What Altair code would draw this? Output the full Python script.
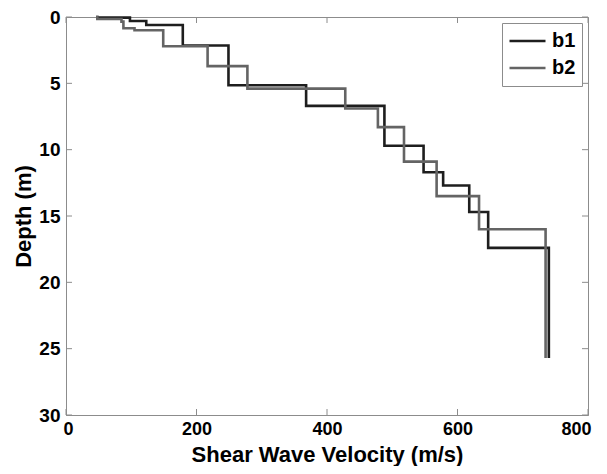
import altair as alt
import pandas as pd

series_names = ["b1", "b2"]
series_colors = ["#1e1e1e", "#646464"]

b1_velocity = [48, 98, 123, 179, 249, 368, 488, 548, 578, 618, 647, 740]
b1_bottom = [0.05, 0.3, 0.6, 2.15, 5.15, 6.7, 9.7, 11.7, 12.7, 14.7, 17.4, 25.6]

b2_velocity = [48, 85, 88, 105, 149, 217, 278, 428, 478, 518, 568, 633, 735]
b2_bottom = [0.15, 0.35, 0.85, 1.0, 2.2, 3.7, 5.4, 6.9, 8.3, 10.9, 13.5, 16.0, 25.6]

x_ticks = [0, 200, 400, 600, 800]
y_ticks = [0, 5, 10, 15, 20, 25, 30]

W, H = 522, 398
FONT = "Liberation Sans"
AXIS_GRAY = "#8c8c8c"


def step_rows(name, vel, bottom):
    rows = []
    top = 0.0
    k = 0
    for v, b in zip(vel, bottom):
        rows.append({"series": name, "v": v, "d": top, "k": k})
        k += 1
        rows.append({"series": name, "v": v, "d": b, "k": k})
        k += 1
        top = b
    return rows


rows = step_rows("b1", b1_velocity, b1_bottom) + step_rows("b2", b2_velocity, b2_bottom)
df = pd.DataFrame(rows)

xscale = alt.Scale(domain=[0, 800], nice=False, zero=False)
yscale = alt.Scale(domain=[0, 30], reverse=True, nice=False, zero=False)

xaxis = alt.Axis(values=x_ticks, ticks=False, tickSize=0, grid=False,
                 labelFlush=True, labelFlushOffset=3, labelFontSize=18,
                 labelPadding=5, titleY=46.5, titleBaseline="alphabetic")
yaxis = alt.Axis(values=y_ticks, ticks=False, tickSize=0, grid=False, labelFlush=False,
                 labelPadding=6, titlePadding=3)
XT = "Shear Wave Velocity (m/s)"
YT = "Depth (m)"

lines = alt.Chart(df).mark_line(strokeWidth=2.6, strokeJoin="miter", strokeCap="square").encode(
    x=alt.X("v:Q", scale=xscale, title=XT, axis=xaxis),
    y=alt.Y("d:Q", scale=yscale, title=YT, axis=yaxis),
    color=alt.Color("series:N", scale=alt.Scale(domain=series_names, range=series_colors),
                    legend=alt.Legend(title=None, orient="top-right", offset=6,
                                      strokeColor=AXIS_GRAY, fillColor="white",
                                      padding=6, symbolType="stroke", symbolStrokeWidth=2.6,
                                      symbolSize=1296, clipHeight=24, rowPadding=3,
                                      labelOffset=5, labelFontSize=20, labelFontWeight="bold",
                                      labelFont=FONT, labelColor="black")),
    order="k:Q",
)

xt = pd.DataFrame({"t": x_ticks})
yt = pd.DataFrame({"t": y_ticks})

tick_x_bottom = alt.Chart(xt).mark_rule(color=AXIS_GRAY, strokeWidth=1).encode(
    x=alt.X("t:Q", scale=xscale, title=XT, axis=xaxis), y=alt.value(H), y2=alt.value(H - 6))
tick_x_top = alt.Chart(xt).mark_rule(color=AXIS_GRAY, strokeWidth=1).encode(
    x=alt.X("t:Q", scale=xscale, title=XT, axis=xaxis), y=alt.value(0), y2=alt.value(6))
tick_y_left = alt.Chart(yt).mark_rule(color=AXIS_GRAY, strokeWidth=1).encode(
    y=alt.Y("t:Q", scale=yscale, title=YT, axis=yaxis), x=alt.value(0), x2=alt.value(6))
tick_y_right = alt.Chart(yt).mark_rule(color=AXIS_GRAY, strokeWidth=1).encode(
    y=alt.Y("t:Q", scale=yscale, title=YT, axis=yaxis), x=alt.value(W), x2=alt.value(W - 6))

chart = alt.layer(lines, tick_x_bottom, tick_x_top, tick_y_left, tick_y_right).properties(
    width=W, height=H,
    background="white",
    autosize=alt.AutoSizeParams(type="none"),
    padding={"left": 58, "top": 9, "right": 11, "bottom": 51},
).configure_view(
    stroke=AXIS_GRAY, strokeWidth=1
).configure_axis(
    domainColor=AXIS_GRAY, domainWidth=1,
    labelFont=FONT, labelFontSize=19, labelFontWeight="bold", labelColor="black",
    titleFont=FONT, titleFontSize=22, titleFontWeight="bold", titleColor="black",
)

chart.save("out.html", embed_options={"renderer": "svg", "actions": False})
